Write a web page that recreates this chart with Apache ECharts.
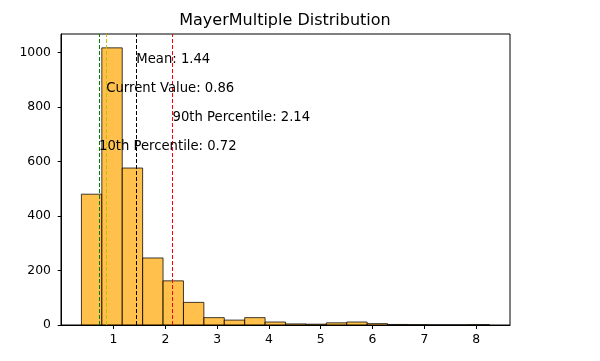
<!DOCTYPE html>
<html>
<head>
<meta charset="utf-8">
<script src="https://cdn.jsdelivr.net/npm/echarts@6/dist/echarts.min.js"></script>
<style>html,body{margin:0;padding:0;background:#fff}#c{width:600px;height:361px}</style>
</head>
<body>
<div id="c"></div>
<script>
// Histogram data
var binStart = 0.38;
var binEnd = 8.26;
var counts = [480, 1017, 576, 246, 162, 83, 27, 18, 27, 11, 4, 3, 8, 11, 5, 2, 1, 0, 0, 1];

// Reference lines
var lineNames = ['10th Percentile', 'Current Value', 'Mean', '90th Percentile'];
var lineValues = [0.72, 0.86, 1.44, 2.14];
var lineColors = ['#008000', '#bfbf00', '#000000', '#ff0000'];
var labelFractions = [0.6, 0.8, 0.9, 0.7];

// Axis ticks
var xTicks = [1, 2, 3, 4, 5, 6, 7, 8];
var yTicks = [0, 200, 400, 600, 800, 1000];

var binWidth = (binEnd - binStart) / counts.length;
var bins = counts.map(function (c, i) {
  return [binStart + i * binWidth, binStart + (i + 1) * binWidth, c];
});
var maxCount = Math.max.apply(null, counts);
var yMax = maxCount * 1.05;
var xPad = (binEnd - binStart) * 0.05;

var labelData = lineValues.map(function (v, i) {
  return {
    value: [v, labelFractions[i] * yMax],
    label: { formatter: lineNames[i] + ': ' + v.toFixed(2) }
  };
});

var font = 'DejaVu Sans';
var chart = echarts.init(document.getElementById('c'));
chart.setOption({
  animation: false,
  backgroundColor: '#fff',
  title: {
    text: 'MayerMultiple Distribution',
    left: 280, textAlign: 'center', top: 8,
    textStyle: { fontFamily: font, fontSize: 16, fontWeight: 'normal', color: '#000' }
  },
  grid: {
    left: 61, right: 90, top: 34, bottom: 36,
    show: true, borderColor: '#000', borderWidth: 1, backgroundColor: 'transparent'
  },
  xAxis: {
    type: 'value',
    min: binStart - xPad, max: binEnd + xPad,
    splitLine: { show: false },
    axisLine: { show: true, onZero: false, lineStyle: { color: '#000' } },
    axisTick: { show: true, length: 4, lineStyle: { color: '#000' }, customValues: xTicks },
    axisLabel: { color: '#000', fontFamily: font, fontSize: 12.4, margin: 9, customValues: xTicks,
      formatter: function (v) { return String(v); } }
  },
  yAxis: {
    type: 'value',
    min: 0, max: yMax,
    splitLine: { show: false },
    axisLine: { show: true, lineStyle: { color: '#000' } },
    axisTick: { show: true, length: 4, lineStyle: { color: '#000' }, customValues: yTicks },
    axisLabel: { color: '#000', fontFamily: font, fontSize: 12.4, margin: 10, customValues: yTicks,
      formatter: function (v) { return String(v); } }
  },
  series: [
    {
      type: 'custom',
      data: bins,
      encode: { x: [0, 1], y: 2 },
      renderItem: function (params, api) {
        var p0 = api.coord([api.value(0), api.value(2)]);
        var p1 = api.coord([api.value(1), 0]);
        return {
          type: 'rect',
          shape: { x: p0[0], y: p0[1], width: p1[0] - p0[0], height: p1[1] - p0[1] },
          style: { fill: 'rgba(255,165,0,0.7)', stroke: 'rgba(0,0,0,0.75)', lineWidth: 1 }
        };
      },
      markLine: {
        silent: true,
        symbol: 'none',
        label: { show: false },
        data: lineValues.map(function (v, i) {
          return { xAxis: v, lineStyle: { color: lineColors[i], type: [4, 2], width: 1 } };
        })
      },
      z: 2
    },
    {
      type: 'scatter',
      symbolSize: 0,
      itemStyle: { opacity: 1 },
      data: labelData,
      label: {
        show: true, position: 'right', distance: 0, offset: [0, -4],
        color: '#000', opacity: 1, fontFamily: font, fontSize: 13.2
      },
      z: 5
    }
  ]
});
</script>
</body>
</html>
